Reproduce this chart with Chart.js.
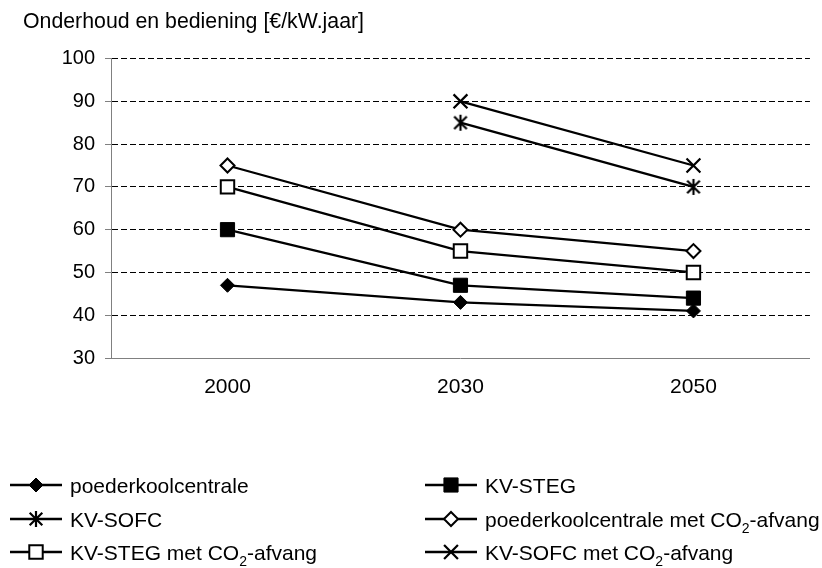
<!DOCTYPE html>
<html><head><meta charset="utf-8">
<script src="https://cdn.jsdelivr.net/npm/chart.js@4.4.0/dist/chart.umd.min.js"></script>
<style>html,body{margin:0;padding:0;background:#fff}canvas{display:block}</style>
</head><body>
<canvas id="c" width="822" height="568"></canvas>
<script>
const categories = ['2000', '2030', '2050'];
const poederkoolcentrale = [47, 43, 41];
const kvSteg = [60, 47, 44];
const kvSofc = [null, 85, 70];
const poederkoolCO2 = [75, 60, 55];
const kvStegCO2 = [70, 55, 50];
const kvSofcCO2 = [null, 90, 75];
const seriesLabels = ['poederkoolcentrale', 'KV-STEG', 'KV-SOFC',
  'poederkoolcentrale met CO₂-afvang', 'KV-STEG met CO₂-afvang', 'KV-SOFC met CO₂-afvang'];
const yTicks = [30, 40, 50, 60, 70, 80, 90, 100];
const titleText = 'Onderhoud en bediening [€/kW.jaar]';

const FONT = "'Liberation Sans', Arial, sans-serif";

function makeAsterisk() {
  const s = 18, c = document.createElement('canvas');
  c.width = s; c.height = s;
  const x = c.getContext('2d');
  x.strokeStyle = '#000'; x.lineWidth = 2.2;
  const h = s / 2, d = 6.3;
  x.beginPath();
  x.moveTo(h - d, h - d); x.lineTo(h + d, h + d);
  x.moveTo(h + d, h - d); x.lineTo(h - d, h + d);
  x.moveTo(h, h - 8); x.lineTo(h, h + 8);
  x.stroke();
  return c;
}
const asterisk = makeAsterisk();

function mk(label, data, style, radius, bg, bw) {
  return {
    label, data,
    pointStyle: style, pointRadius: radius, pointHoverRadius: radius,
    pointBackgroundColor: bg, pointBorderColor: '#000', pointBorderWidth: bw,
    borderColor: '#000', borderWidth: 2.3, backgroundColor: bg,
    fill: false, tension: 0
  };
}

const datasets = [
  mk(seriesLabels[0], poederkoolcentrale, 'rectRot', 7, '#000', 1),
  mk(seriesLabels[1], kvSteg, 'rect', 10, '#000', 1),
  mk(seriesLabels[2], kvSofc, asterisk, 9, '#000', 2.2),
  mk(seriesLabels[3], poederkoolCO2, 'rectRot', 7, '#fff', 2),
  mk(seriesLabels[4], kvStegCO2, 'rect', 9.5, '#fff', 2),
  mk(seriesLabels[5], kvSofcCO2, 'crossRot', 9.8, '#000', 2.25)
];

const legendPlugin = {
  id: 'twoColLegend',
  afterDraw(chart) {
    const ctx = chart.ctx;
    const colX = [10, 425], rowY = [485, 519, 552];
    chart.data.datasets.forEach((ds, i) => {
      const x0 = colX[i % 2], y = rowY[Math.floor(i / 2)];
      ctx.save();
      ctx.strokeStyle = '#000'; ctx.lineWidth = 2.3;
      ctx.beginPath(); ctx.moveTo(x0, y); ctx.lineTo(x0 + 52, y); ctx.stroke();
      ctx.fillStyle = ds.pointBackgroundColor; ctx.strokeStyle = '#000';
      ctx.lineWidth = ds.pointBorderWidth;
      Chart.helpers.drawPoint(ctx, {
        pointStyle: ds.pointStyle, radius: ds.pointRadius, rotation: 0,
        borderWidth: ds.pointBorderWidth
      }, x0 + 26, y);
      ctx.fillStyle = '#000'; ctx.textBaseline = 'alphabetic'; ctx.textAlign = 'left';
      const parts = ds.label.split('₂');
      let tx = x0 + 60; const by = y + 8;
      parts.forEach((p, k) => {
        ctx.font = '21px ' + FONT;
        ctx.fillText(p, tx, by);
        tx += ctx.measureText(p).width;
        if (k < parts.length - 1) {
          ctx.font = '14px ' + FONT;
          ctx.fillText('2', tx, by + 6);
          tx += ctx.measureText('2').width;
        }
      });
      ctx.restore();
    });
  }
};

new Chart(document.getElementById('c'), {
  type: 'line',
  data: { labels: categories, datasets },
  plugins: [legendPlugin],
  options: {
    responsive: false, animation: false, devicePixelRatio: 1, events: [],
    layout: { padding: { left: 23, right: 9, top: 0, bottom: 160 } },
    plugins: {
      legend: { display: false },
      tooltip: { enabled: false },
      title: {
        display: true, text: titleText, align: 'start', color: '#000',
        font: { family: FONT, size: 21.3, weight: 'normal' },
        padding: { top: 9, bottom: 24 }
      }
    },
    scales: {
      x: {
        offset: true,
        grid: { display: false, drawTicks: false },
        border: { display: true, color: '#808080', width: 1 },
        ticks: { color: '#000', font: { family: FONT, size: 21 }, padding: 17, maxRotation: 0 },
        afterFit(s) { s.height = 50; }
      },
      y: {
        min: 30, max: 100,
        afterBuildTicks(s) { s.ticks = yTicks.map(v => ({ value: v })); },
        grid: {
          color: c => (c.tick && c.tick.value === 30) ? 'rgba(0,0,0,0)' : '#000',
          lineWidth: 1, tickLength: 6, tickColor: '#808080', drawTicks: true
        },
        border: { display: true, color: '#808080', width: 1, dash: [6, 3] },
        ticks: { color: '#000', font: { family: FONT, size: 20 }, padding: 10 },
        afterFit(s) { s.width = 88; }
      }
    }
  }
});
</script>
</body></html>
